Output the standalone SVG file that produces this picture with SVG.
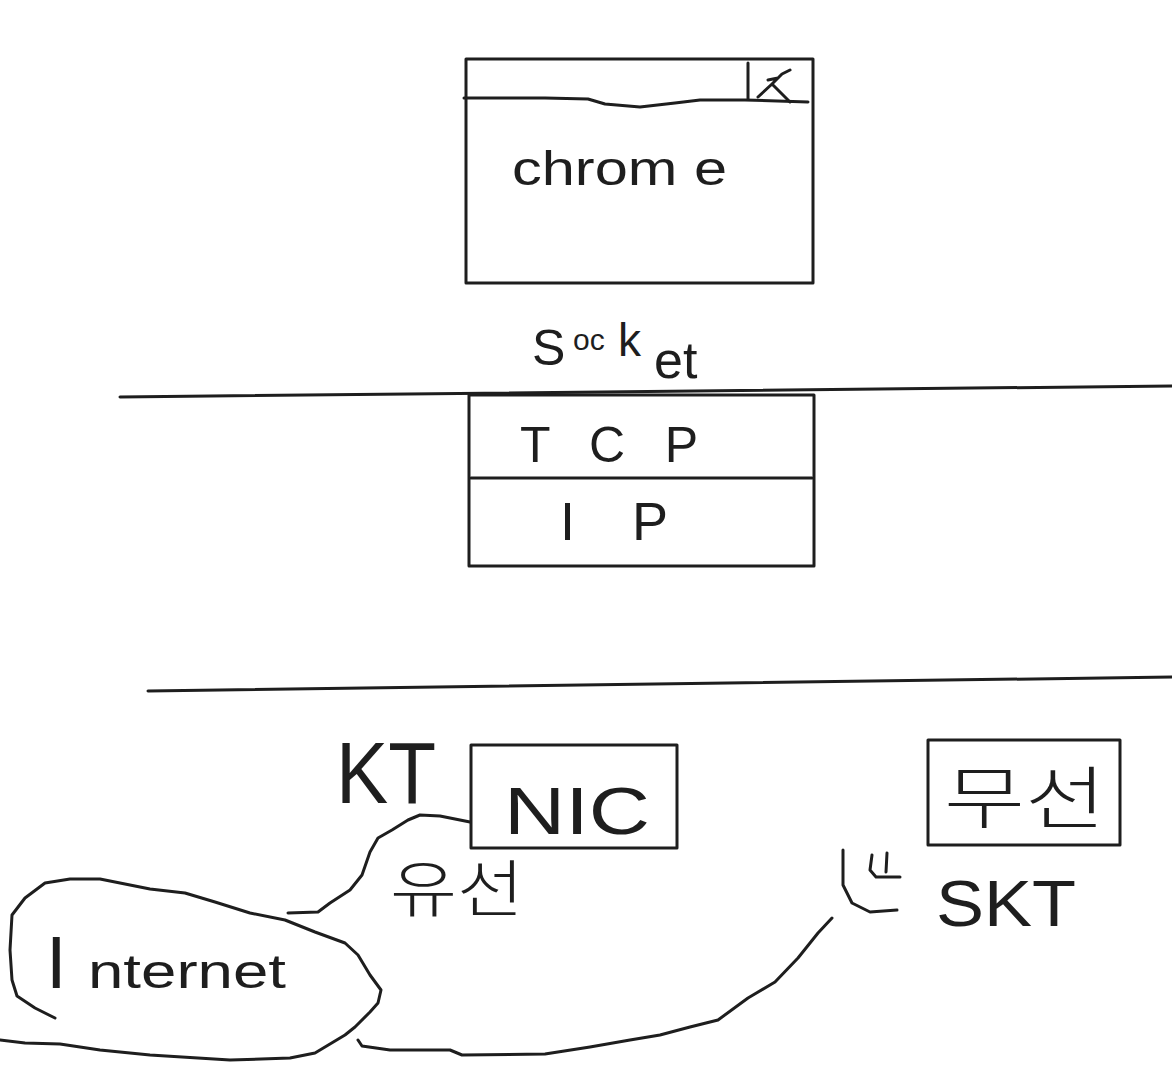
<svg xmlns="http://www.w3.org/2000/svg" width="1172" height="1072" viewBox="0 0 1172 1072">
<style>
.s{fill:none;stroke:#1e1e1e;stroke-width:3;stroke-linecap:round;stroke-linejoin:round}
.t{fill:#1e1e1e;font-family:"Liberation Sans","Noto Sans CJK KR",sans-serif}
.k{fill:#1e1e1e;font-family:"Noto Sans CJK KR","Noto Sans",sans-serif;font-weight:300}
</style>
<rect width="1172" height="1072" fill="#fff"/>
<g id="chrome">
<rect class="s" x="466" y="59" width="347" height="224"/>
<path class="s" d="M464 98 L545 98 L588 99 L605 104 L640 107 L675 103 L700 100 L745 100 L808 102"/>
<path class="s" d="M748 63 L748 99 M758 97 L772 84 L790 102 M772 84 L782 74 L790 70 M768 80 L778 78"/>
<text class="t" x="512" y="185" font-size="48" textLength="215" lengthAdjust="spacingAndGlyphs">chrom e</text>
</g>
<g id="socket">
<text class="t" x="532" y="365" font-size="50">S</text>
<text class="t" x="573" y="350" font-size="30">oc</text>
<text class="t" x="618" y="356" font-size="46">k</text>
<text class="t" x="654" y="378" font-size="52">et</text>
</g>
<g id="tcpip">
<rect class="s" x="469" y="395" width="345" height="171"/>
<line class="s" x1="471" y1="478" x2="812" y2="478"/>
<text class="t" x="520" y="462" font-size="50" textLength="178" lengthAdjust="spacing">T C P</text>
<text class="t" x="560" y="540" font-size="54" textLength="108" lengthAdjust="spacing">I P</text>
</g>
<g id="nic">
<rect class="s" x="471" y="745" width="206" height="103"/>
<text class="t" x="504" y="834" font-size="66" textLength="146" lengthAdjust="spacingAndGlyphs">NIC</text>
</g>
<g id="wireless">
<rect class="s" x="928" y="740" width="192" height="105"/>
<text class="k" x="944" y="823" font-size="68" textLength="162" lengthAdjust="spacingAndGlyphs">무선</text>
</g>
<g id="labels">
<text class="t" x="336" y="803" font-size="88" textLength="100" lengthAdjust="spacingAndGlyphs">KT</text>
<text class="k" x="390" y="912" font-size="62" textLength="134" lengthAdjust="spacingAndGlyphs">유선</text>
<text class="t" x="936" y="926" font-size="64" textLength="140" lengthAdjust="spacingAndGlyphs">SKT</text>
</g>
<g id="internet">
<path class="s" d="M55 1018 L35 1008 L17 996 L12 980 L10 950 L12 915 L25 898 L45 883 L70 879 L100 879 L125 884 L150 889 L185 893 L215 902 L250 913 L285 920 L315 932 L345 943 L358 955 L370 975 L381 990 L378 1003 L370 1012 L355 1027 L345 1035 L315 1053 L290 1058 L230 1060 L150 1055 L100 1050 L60 1044 L25 1043 L0 1040"/>
<text class="t" x="46" y="988" font-size="74">I</text>
<text class="t" x="88" y="988" font-size="48" textLength="198" lengthAdjust="spacingAndGlyphs">nternet</text>
</g>
<g id="connectors">
<path class="s" d="M288 913 L318 912 L330 903 L350 890 L362 875 L370 852 L378 838 L392 830 L408 820 L420 815 L440 816 L470 822"/>
<path class="s" d="M358 1040 L362 1046 L390 1050 L450 1050 L462 1055 L545 1054 L590 1047 L630 1040 L660 1035 L690 1027 L718 1020 L748 998 L775 982 L798 958 L818 933 L832 918"/>
<path class="s" d="M843 850 L843 885 L852 903 L870 912 L897 910 M872 855 L870 870 L876 877 L900 877 M887 853 L886 872"/>
</g>
<g id="dividers">
<line class="s" x1="120" y1="397" x2="1172" y2="386"/>
<line class="s" x1="148" y1="691" x2="1172" y2="677"/>
</g>
</svg>
